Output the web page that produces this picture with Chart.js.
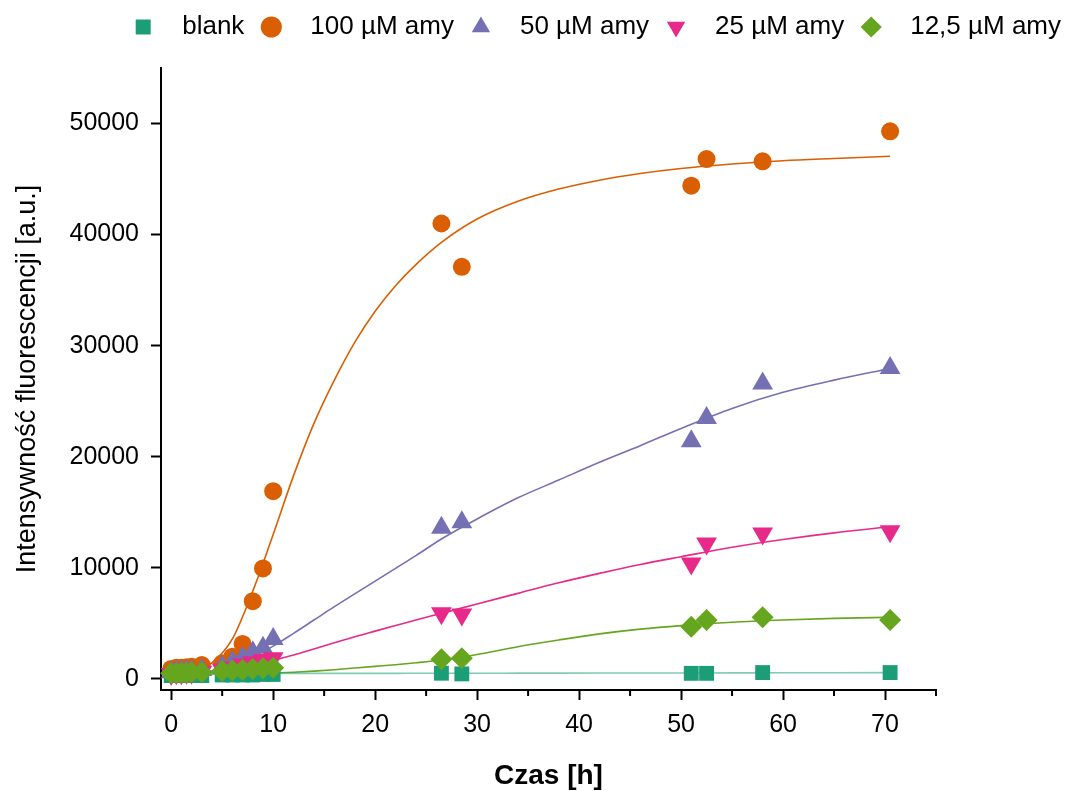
<!DOCTYPE html>
<html>
<head>
<meta charset="utf-8">
<script src="https://cdn.jsdelivr.net/npm/chart.js@4.4.0/dist/chart.umd.min.js"></script>
<style>
  html, body { margin: 0; padding: 0; background: #fff; }
</style>
</head>
<body>
<canvas id="fluoChart" width="1065" height="791"></canvas>
<script>
// czas pomiaru [h]
const czas = [0, 0.5, 1, 1.5, 2, 3, 5, 6, 7, 8, 9, 10, 26.5, 28.5, 51, 52.5, 58, 70.5];

// intensywnosc fluorescencji [a.u.]
const blank   = [300, 300, 300, 300, 300, 300, 350, 350, 350, 350, 400, 400, 510, 450, 500, 500, 570, 570];
const amy100  = [900, 1000, 1000, 1050, 1100, 1250, 1400, 2000, 3150, 7000, 9950, 16900, 41000, 37100, 44400, 46800, 46600, 49300];
const amy50   = [600, 650, 650, 700, 700, 800, 1100, 1500, 1900, 2400, 2800, 3600, 13600, 14100, 21400, 23500, 26600, 28000];
const amy25   = [450, 500, 500, 550, 550, 650, 850, 1000, 1300, 1500, 1700, 1850, 5900, 5800, 10400, 12200, 13100, 13300];
const amy12_5 = [500, 500, 550, 550, 600, 600, 700, 750, 800, 900, 950, 1000, 1770, 1860, 4700, 5300, 5560, 5300];

const fitCzas  = [0, 2, 4, 6, 8, 10, 12, 14, 16, 18, 20, 22, 24, 26.5, 30, 34, 38, 42, 46, 50, 55, 60, 65, 70.5];
const fitBlank = [480, 480, 485, 485, 490, 490, 495, 495, 495, 500, 500, 500, 505, 510, 510, 515, 520, 525, 530, 535, 540, 550, 555, 560];
const fit100   = [350, 620, 1450, 3600, 7900, 13000, 18300, 23000, 26900, 30300, 33100, 35400, 37300, 39300, 41400, 43000, 44100, 44900, 45500, 45950, 46350, 46650, 46850, 47050];
const fit50    = [350, 450, 700, 1100, 2000, 2950, 4100, 5300, 6500, 7650, 8800, 9950, 11100, 12600, 14400, 16300, 17900, 19500, 21000, 22550, 24350, 25800, 26900, 27950];
const fit25    = [300, 420, 640, 900, 1250, 1680, 2150, 2700, 3250, 3800, 4300, 4800, 5300, 5900, 6750, 7700, 8650, 9500, 10300, 11000, 11850, 12550, 13150, 13700];
const fit12_5  = [420, 430, 440, 460, 490, 530, 600, 700, 830, 980, 1130, 1280, 1450, 1700, 2200, 2900, 3500, 4050, 4480, 4800, 5100, 5300, 5450, 5550];

const labels = ['blank', '100 µM amy', '50 µM amy', '25 µM amy', '12,5 µM amy'];
const xTicks = [0, 10, 20, 30, 40, 50, 60, 70];
const xMinor = [5, 15, 25, 35, 45, 55, 65, 75];
const yTicks = [0, 10000, 20000, 30000, 40000, 50000];

const FONT = "'Liberation Sans', Arial, sans-serif";
const colors = ['#1b9e77', '#d95f02', '#7570b3', '#e7298a', '#66a61e'];

function pts(xs, ys) {
    return xs.map((x, i) => ({x: x, y: ys[i]}));
}

function markers(idx, ys, style, radius, rotation, order) {
    return {
        label: labels[idx],
        data: pts(czas, ys),
        showLine: false,
        pointStyle: style,
        pointRadius: radius,
        pointHoverRadius: radius,
        pointRotation: rotation,
        pointBorderWidth: 0,
        borderWidth: 0,
        backgroundColor: colors[idx],
        borderColor: colors[idx],
        order: order,
        clip: false
    };
}

function fitLine(idx, ys, color) {
    return {
        label: 'fit ' + labels[idx],
        data: pts(fitCzas, ys),
        showLine: true,
        pointRadius: 0,
        borderWidth: 1.6,
        borderColor: color,
        backgroundColor: color,
        cubicInterpolationMode: 'monotone',
        fill: false,
        order: 10 + idx
    };
}

// krotkie kreski podzialki pomocniczej na osi X
const minorTicks = {
    id: 'minorTicks',
    afterDraw(chart) {
        const xs = chart.scales.x;
        const ctx = chart.ctx;
        ctx.save();
        ctx.strokeStyle = '#000';
        ctx.lineWidth = 2;
        xMinor.forEach(v => {
            const px = xs.getPixelForValue(v);
            ctx.beginPath();
            ctx.moveTo(px, xs.top);
            ctx.lineTo(px, xs.top + 6);
            ctx.stroke();
        });
        ctx.restore();
    }
};

const ctx = document.getElementById('fluoChart').getContext('2d');
new Chart(ctx, {
    type: 'line',
    data: {
        datasets: [
            markers(0, blank, 'rect', 10.5, 0, 5),
            markers(1, amy100, 'circle', 9, 0, 4),
            markers(2, amy50, 'triangle', 12, 0, 3),
            markers(3, amy25, 'triangle', 12, 180, 2),
            markers(4, amy12_5, 'rectRot', 11, 0, 1),
            fitLine(0, fitBlank, 'rgba(27,158,119,0.55)'),
            fitLine(1, fit100, colors[1]),
            fitLine(2, fit50, colors[2]),
            fitLine(3, fit25, colors[3]),
            fitLine(4, fit12_5, colors[4])
        ]
    },
    options: {
        responsive: false,
        animation: false,
        // legenda siega do prawej krawedzi
        layout: { padding: { left: 0, top: 0, bottom: 0, right: -10 } },
        plugins: {
            tooltip: { enabled: false },
            subtitle: {
                // odstep miedzy legenda a wykresem
                display: true, text: '', position: 'top', weight: 500,
                padding: 0, font: { size: 18, lineHeight: 1 }
            },
            legend: {
                position: 'top',
                align: 'end',
                labels: {
                    usePointStyle: true,
                    boxHeight: 15,
                    padding: 14,
                    color: '#000',
                    font: { family: FONT, size: 26 },
                    filter: item => item.datasetIndex < 5,
                    sort: (a, b) => a.datasetIndex - b.datasetIndex,
                    generateLabels: chart => Chart.defaults.plugins.legend.labels.generateLabels(chart)
                        .map(l => Object.assign(l, { text: '\u2002' + l.text }))
                }
            }
        },
        scales: {
            x: {
                type: 'linear',
                min: -1,
                max: 75,
                afterBuildTicks: s => { s.ticks = xTicks.map(v => ({value: v})); },
                afterFit: s => { s.height = 101; s.paddingLeft = 0; s.paddingRight = 129; },
                ticks: { color: '#000', padding: 10, maxRotation: 0, font: { family: FONT, size: 25 } },
                grid: { drawOnChartArea: false, drawTicks: true, tickLength: 10, tickWidth: 2, tickColor: '#000' },
                border: { display: true, color: '#000', width: 2 },
                title: {
                    display: true, text: 'Czas [h]', color: '#000',
                    font: { family: FONT, size: 28, weight: 'bold', lineHeight: 1 },
                    padding: { top: 0, bottom: 1 }
                }
            },
            y: {
                type: 'linear',
                min: -1000,
                max: 55000,
                afterBuildTicks: s => { s.ticks = yTicks.map(v => ({value: v})); },
                afterFit: s => { s.width = 161; s.paddingTop = 0; s.paddingBottom = 0; },
                ticks: { color: '#000', padding: 12, font: { family: FONT, size: 25 }, callback: v => String(v) },
                grid: { drawOnChartArea: false, drawTicks: true, tickLength: 10, tickWidth: 2, tickColor: '#000' },
                border: { display: true, color: '#000', width: 2 },
                title: {
                    display: true, text: 'Intensywność fluorescencji [a.u.]', color: '#000',
                    font: { family: FONT, size: 27, lineHeight: 1.2 },
                    padding: { top: 11, bottom: 0 }
                }
            }
        }
    },
    plugins: [minorTicks]
});
</script>
</body>
</html>
